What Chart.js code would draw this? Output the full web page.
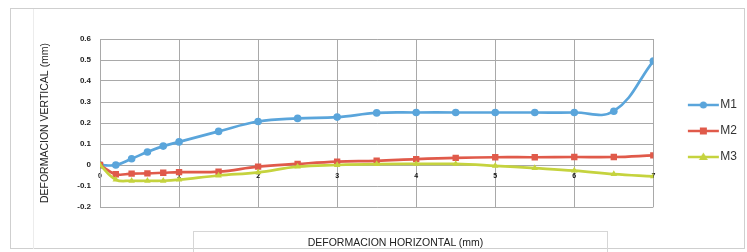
<!DOCTYPE html>
<html>
<head>
<meta charset="utf-8">
<script src="https://cdn.jsdelivr.net/npm/chart.js@4/dist/chart.umd.min.js"></script>
<style>
  body { margin: 0; background: #fff; }
  #wrap { position: relative; width: 747px; height: 252px; overflow: hidden; }
  #chart { position: absolute; left: 0; top: 0; }
  .frame { position: absolute; left: 10px; top: 8px; width: 735px; height: 241px; border: 1px solid #cfcfcf; box-sizing: border-box; }
  .inner { position: absolute; left: 33px; top: 9px; width: 1px; height: 240px; background: #ececec; }
  .xtitle { position: absolute; left: 193px; top: 231px; width: 415px; height: 30px; border: 1px solid #d6d6d6; box-sizing: border-box;
            font: 10.5px "Liberation Sans", Arial, sans-serif; color: #222; text-align: center; line-height: 20px; padding-right: 10px; }
</style>
</head>
<body>
<div id="wrap">
  <div class="frame"></div>
  <div class="inner"></div>
  <canvas id="chart" width="747" height="252"></canvas>
  <div class="xtitle">DEFORMACION HORIZONTAL (mm)</div>
</div>
<script>
const seriesNames = ["M1", "M2", "M3"];
const xValues = [0, 0.2, 0.4, 0.6, 0.8, 1.0, 1.5, 2.0, 2.5, 3.0, 3.5, 4.0, 4.5, 5.0, 5.5, 6.0, 6.5, 7.0];
const m1 = [0, 0, 0.03, 0.062, 0.09, 0.11, 0.16, 0.207, 0.222, 0.228, 0.248, 0.25, 0.25, 0.25, 0.25, 0.25, 0.256, 0.495];
const m2 = [0, -0.044, -0.041, -0.04, -0.037, -0.034, -0.032, -0.008, 0.005, 0.016, 0.02, 0.028, 0.034, 0.037, 0.037, 0.038, 0.038, 0.046];
const m3 = [0, -0.07, -0.075, -0.075, -0.075, -0.07, -0.05, -0.035, -0.008, 0.0, 0.004, 0.005, 0.005, -0.004, -0.015, -0.027, -0.043, -0.054];
const xTicks = { min: 0, max: 7, step: 1 };
const yTicks = { min: -0.2, max: 0.6, step: 0.1 };

const colors = ["#5aa5db", "#e05a4a", "#c5d33e"];
const styles = ["circle", "rect", "triangle"];

function toPoints(ys) {
  return xValues.map((x, i) => ({ x: x, y: ys[i] }));
}

// little line + marker picture for each legend entry
function legendIcon(color, style) {
  const c = document.createElement("canvas");
  c.width = 60; c.height = 14;
  const g = c.getContext("2d");
  g.strokeStyle = color; g.fillStyle = color; g.lineWidth = 2.5;
  g.beginPath(); g.moveTo(27, 7); g.lineTo(58, 7); g.stroke();
  g.beginPath();
  if (style === "circle") g.arc(42.5, 7, 3.5, 0, Math.PI * 2);
  else if (style === "rect") g.rect(39, 3.5, 7, 7);
  else { g.moveTo(42.5, 2.5); g.lineTo(47, 10); g.lineTo(38, 10); g.closePath(); }
  g.fill();
  return c;
}

const font = "'Liberation Sans', Arial, sans-serif";

new Chart(document.getElementById("chart"), {
  type: "line",
  data: {
    datasets: [m1, m2, m3].map((ys, i) => ({
      label: seriesNames[i],
      data: toPoints(ys),
      borderColor: colors[i],
      backgroundColor: colors[i],
      borderWidth: 2.7,
      pointStyle: styles[i],
      pointRadius: i === 1 ? 4.5 : 3.8,
      pointBorderWidth: 0,
      tension: 0.4,
      order: 3 - i
    }))
  },
  options: {
    responsive: false,
    animation: false,
    layout: { padding: { left: 0, top: 39, bottom: 45, right: 0 } },
    scales: {
      x: {
        type: "linear",
        position: { y: 0 },
        min: xTicks.min, max: xTicks.max,
        ticks: { stepSize: xTicks.step, padding: 7, color: "#111", font: { family: font, size: 7, weight: "bold" } },
        grid: { color: "#a9a9a9", drawTicks: false },
        border: { color: "#a9a9a9" }
      },
      y: {
        min: yTicks.min, max: yTicks.max,
        afterFit: s => { s.width = 100; },
        ticks: {
          stepSize: yTicks.step, padding: 9, color: "#222",
          font: { family: font, size: 8, weight: "bold" },
          callback: v => Math.abs(v) < 1e-9 ? "0" : v.toFixed(1)
        },
        grid: { color: "#a9a9a9", drawTicks: false },
        border: { color: "#a9a9a9" },
        title: {
          display: true, text: "DEFORMACION VERTICAL (mm)", color: "#222",
          font: { family: font, size: 10.5 }, padding: { top: 38.7, bottom: 0 }
        }
      }
    },
    plugins: {
      tooltip: { enabled: false },
      legend: {
        position: "right",
        title: { display: true, text: "", font: { size: 10, lineHeight: 1.6 }, padding: 0 },
        labels: {
          usePointStyle: true,
          pointStyleWidth: 47,
          padding: 14,
          color: "#333",
          font: { family: font, size: 12 },
          generateLabels: chart => chart.data.datasets.map((ds, i) => ({
            text: ds.label,
            datasetIndex: i,
            pointStyle: legendIcon(colors[i], styles[i]),
            fontColor: "#333",
            lineWidth: 0,
            hidden: false
          }))
        }
      }
    }
  }
});
</script>
</body>
</html>
